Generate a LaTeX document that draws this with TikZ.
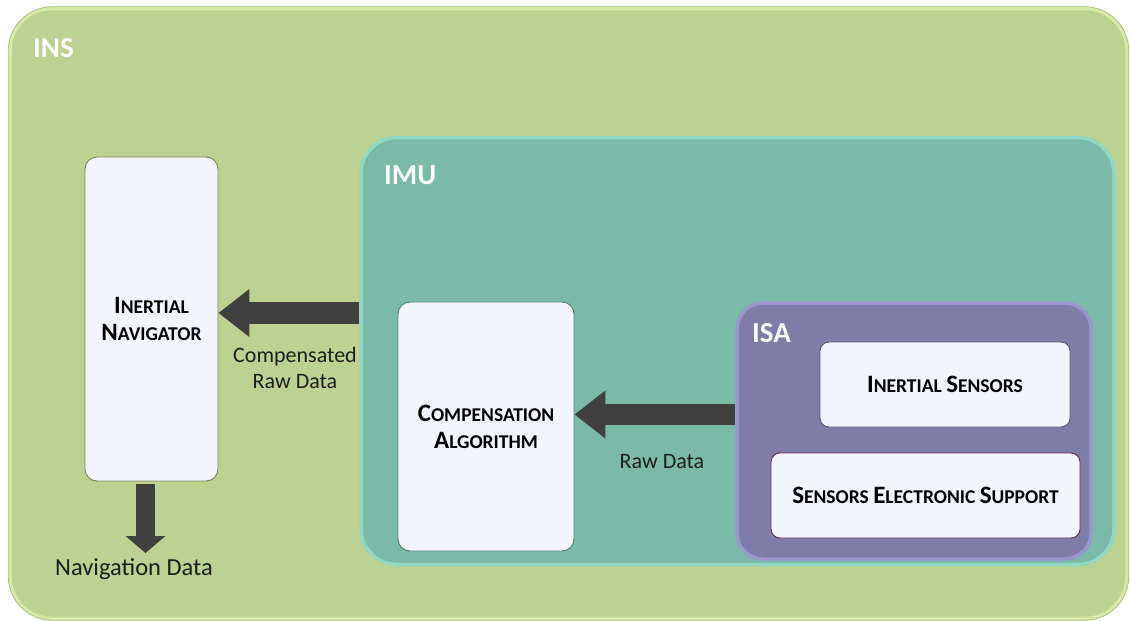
\documentclass[tikz,border=0pt]{standalone}
\usepackage{fontspec}
\setmainfont{Carlito}
\usetikzlibrary{arrows.meta}

\definecolor{insfill}{HTML}{BCD291}
\definecolor{insedge}{HTML}{D6EAA6}
\definecolor{insline}{HTML}{A9BE84}
\definecolor{imufill}{HTML}{7BBAA6}
\definecolor{imuedge}{HTML}{8FD8C2}
\definecolor{imuline}{HTML}{6FA894}
\definecolor{isafill}{HTML}{7F7CA8}
\definecolor{isaedge}{HTML}{9A97CF}
\definecolor{isaline}{HTML}{6E6B96}
\definecolor{boxfill}{HTML}{F3F5FC}
\definecolor{arrowgray}{HTML}{404040}
\definecolor{labeltext}{HTML}{1E1E1E}

% small caps built from two sizes
\newcommand\capfirst[1]{{\fontsize{25}{27}\selectfont #1}}
\newcommand\caprest[1]{{\fontsize{19.5}{27}\selectfont #1}}

\tikzset{
  panel/.style={draw=#1, line width=3.5pt, inner sep=0pt},
  block/.style={draw=#1, line width=0.9pt, fill=boxfill, inner sep=0pt,
                rounded corners=12pt, align=center,
                font=\bfseries\fontsize{19.5}{27}\selectfont, text=black},
  grouptitle/.style={text=white, font=\bfseries\fontsize{29}{32}\selectfont, anchor=west, inner sep=0pt},
  flowlabel/.style={text=labeltext, font=\fontsize{22}{26}\selectfont, align=center, inner sep=0pt},
  fatarrow/.style={draw=arrowgray, line width=#1, -{Triangle[length=31pt, width=46pt]}},
}

\begin{document}
\begin{tikzpicture}[x=1pt, y=-1pt]
\useasboundingbox (0,0) rectangle (1130,621);
\fill[white] (0,0) rectangle (1130,621);

% INS group
\node[panel=insedge, fill=insfill, rounded corners=42pt,
      minimum width=1117pt, minimum height=610pt] (ins) at (568.5,313.5) {};
\draw[insline, line width=0.8pt, rounded corners=44pt] (ins.south west) rectangle (ins.north east);
\node[grouptitle] (inslbl) at (33,48) {INS};

% IMU group
\node[panel=imuedge, fill=imufill, rounded corners=36pt,
      minimum width=753pt, minimum height=427pt] (imu) at (737.5,351) {};
\node[grouptitle] (imulbl) at (384,175) {IMU};

% ISA group
\node[panel=isaedge, fill=isafill, rounded corners=26pt,
      minimum width=354pt, minimum height=256pt] (isa) at (914,431) {};
\node[grouptitle] (isalbl) at (752,333) {ISA};

% blocks
\node[block=insline!70!black, minimum width=133pt, minimum height=324pt] (nav) at (151.5,319)
  {\capfirst{I}\caprest{NERTIAL}\\\capfirst{N}\caprest{AVIGATOR}};
\node[block=imuline!75!black, minimum width=176pt, minimum height=249pt] (comp) at (486,426.5)
  {\capfirst{C}\caprest{OMPENSATION}\\\capfirst{A}\caprest{LGORITHM}};
\node[block=isaline!80!black, rounded corners=9pt, minimum width=250pt, minimum height=85pt] (sens) at (945,384.5)
  {\capfirst{I}\caprest{NERTIAL} \capfirst{S}\caprest{ENSORS}};
\node[block=isaline!60!purple!70!black, rounded corners=9pt, minimum width=309pt, minimum height=85pt] (ses) at (925.5,495.5)
  {\capfirst{S}\caprest{ENSORS} \capfirst{E}\caprest{LECTRONIC} \capfirst{S}\caprest{UPPORT}};

% data flow
\draw[fatarrow=22pt] ([yshift=6pt]imu.west |- nav.east) -- ([yshift=6pt]nav.east);
\draw[fatarrow=21pt] ([yshift=12pt]isa.west |- comp.east) -- ([yshift=12pt]comp.east);
\coordinate (navout) at (145.5,553);
\draw[draw=arrowgray, line width=19pt, -{Triangle[length=17pt, width=39pt]}]
  ([yshift=-3pt]nav.south -| navout) -- (navout);

% flow labels
\node[flowlabel] (cmplbl) at (295,368) {Compensated\\Raw Data};
\node[flowlabel] (rawlbl) at (662,462) {Raw Data};
\node[flowlabel, font=\fontsize{24.5}{28}\selectfont] (navlbl) at (134,569) {Navigation Data};
\end{tikzpicture}
\end{document}
